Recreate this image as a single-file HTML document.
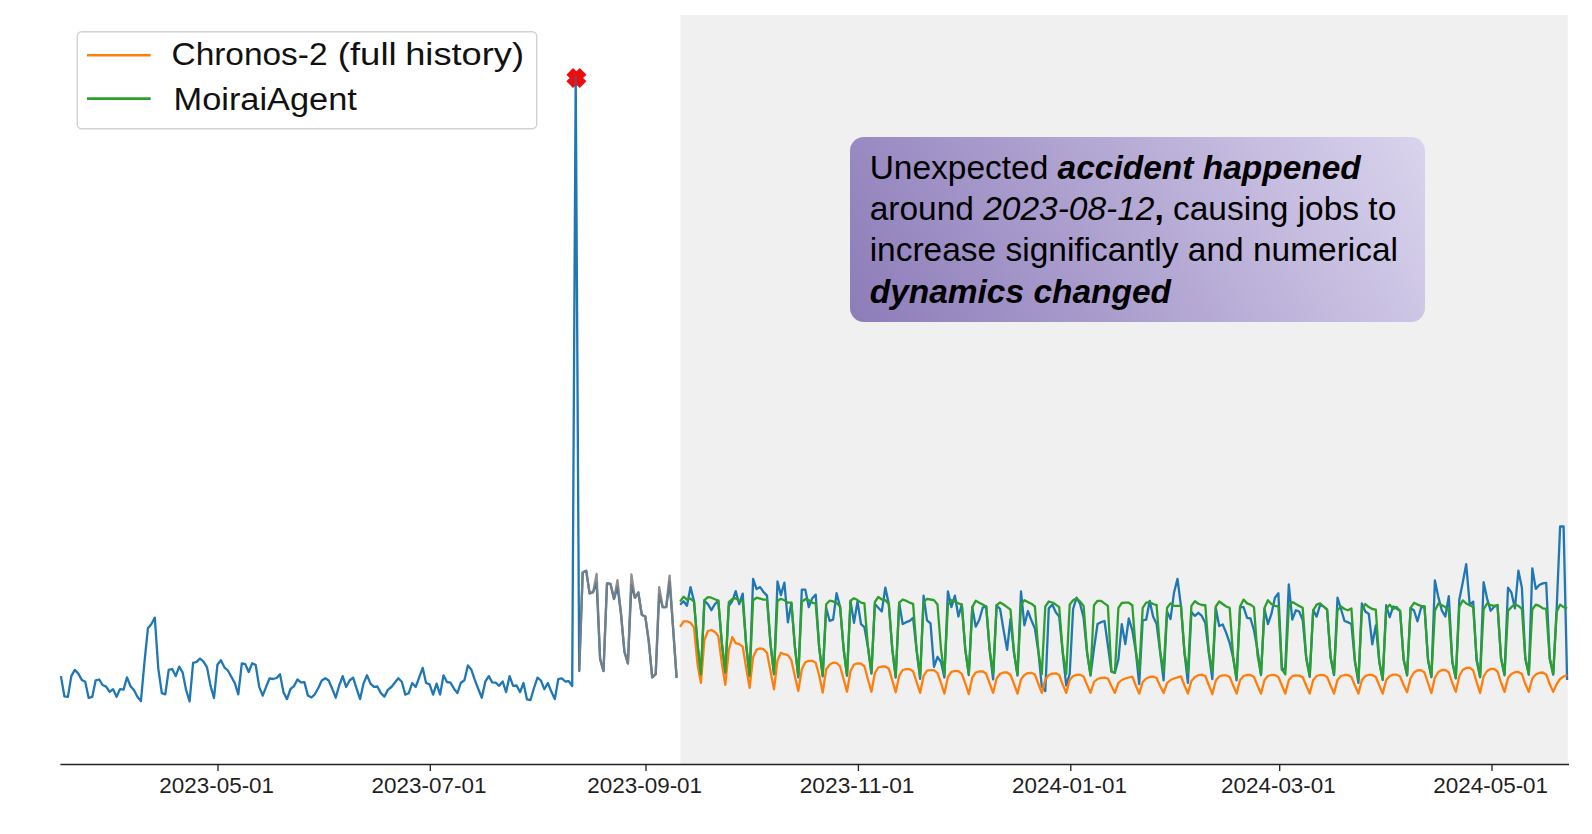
<!DOCTYPE html>
<html>
<head>
<meta charset="utf-8">
<title>Forecast comparison</title>
<style>
html,body{margin:0;padding:0;background:#fff;}
body{width:1592px;height:834px;position:relative;overflow:hidden;font-family:"Liberation Sans",sans-serif;}
svg{position:absolute;left:0;top:0;}
svg text{font-family:"Liberation Sans",sans-serif;}
.note{position:absolute;left:849.7px;top:136.9px;width:575.2px;height:184.7px;border-radius:14px;
background:linear-gradient(60deg,#8c7cb9 0%,#b3a7d3 50%,#dad4ed 100%);}
.note div{position:absolute;left:20.0px;margin:0;font-size:33.47px;line-height:33.5px;height:33.5px;color:#000;white-space:nowrap;}
.note b{font-weight:bold;font-style:italic;}
.note i{font-style:italic;}
</style>
</head>
<body>
<svg width="1592" height="834" viewBox="0 0 1592 834">
<rect x="680.4" y="15.1" width="887.4" height="749.4" fill="#f0f0f0"/>
<g fill="none" stroke-linejoin="round" stroke-linecap="butt">
<path d="M60.9,676.1 L64.4,696.3 L67.9,696.9 L71.3,676.1 L74.8,669.9 L78.3,673.6 L81.8,679.9 L85.2,681.8 L88.7,697.9 L92.2,696.9 L95.7,680.3 L99.2,679.5 L102.6,685.0 L106.1,686.6 L109.6,691.9 L113.1,689.1 L116.6,696.9 L120.0,689.1 L123.5,689.7 L127.0,677.4 L130.5,686.2 L133.9,690.0 L137.4,696.7 L140.9,701.1 L144.4,662.9 L147.9,628.3 L151.3,624.2 L154.8,617.6 L158.3,668.6 L161.8,693.1 L165.3,694.4 L168.7,669.9 L172.2,669.0 L175.7,676.1 L179.2,666.7 L182.6,672.4 L186.1,690.0 L189.6,701.3 L193.1,662.9 L196.6,661.9 L200.0,658.5 L203.5,661.7 L207.0,667.3 L210.5,685.6 L214.0,697.9 L217.4,664.8 L220.9,660.2 L224.4,667.3 L227.9,670.5 L231.3,676.8 L234.8,683.1 L238.3,694.4 L241.8,663.3 L245.3,664.2 L248.7,672.0 L252.2,663.2 L255.7,665.0 L259.2,686.8 L262.7,695.6 L266.1,686.8 L269.6,678.3 L273.1,679.0 L276.6,678.0 L280.0,674.2 L283.5,692.4 L287.0,699.1 L290.5,689.0 L294.0,686.1 L297.4,679.5 L300.9,682.4 L304.4,682.1 L307.9,695.6 L311.4,697.5 L314.8,694.3 L318.3,688.0 L321.8,680.5 L325.3,678.3 L328.7,680.5 L332.2,688.7 L335.7,697.7 L339.2,685.5 L342.7,676.1 L346.1,687.0 L349.6,680.5 L353.1,677.6 L356.6,688.7 L360.1,699.1 L363.5,683.6 L367.0,675.2 L370.5,683.6 L374.0,686.8 L377.4,686.5 L380.9,693.1 L384.4,696.6 L387.9,689.9 L391.4,687.0 L394.8,682.7 L398.3,678.3 L401.8,681.7 L405.3,694.6 L408.7,693.3 L412.2,683.0 L415.7,687.0 L419.2,677.3 L422.7,667.9 L426.1,683.0 L429.6,684.3 L433.1,694.6 L436.6,683.6 L440.1,694.6 L443.5,675.3 L447.0,682.0 L450.5,682.7 L454.0,688.7 L457.4,693.1 L460.9,682.7 L464.4,680.2 L467.9,665.4 L471.4,669.8 L474.8,679.9 L478.3,689.0 L481.8,697.7 L485.3,681.7 L488.8,676.1 L492.2,682.4 L495.7,682.7 L499.2,685.8 L502.7,681.5 L506.1,692.1 L509.6,676.1 L513.1,685.8 L516.6,685.5 L520.1,692.1 L523.5,683.0 L527.0,699.4 L530.5,700.0 L534.0,688.0 L537.5,677.6 L540.9,680.5 L544.4,689.3 L547.9,683.0 L551.4,691.8 L554.8,699.1 L558.3,679.2 L561.8,678.3 L565.3,681.5 L568.8,681.1 L572.2,686.1 L575.7,76.5 L579.2,671.0 L582.7,572.6 L586.2,570.7 L589.6,593.4 L593.1,592.1 L596.6,582.6 L600.1,659.0 L603.5,671.0 L607.0,583.3 L610.5,583.9 L614.0,599.0 L617.5,587.0 L620.9,612.9 L624.4,651.5 L627.9,663.4 L631.4,585.0 L634.9,597.8 L638.3,592.5 L641.8,614.8 L645.3,616.6 L648.8,641.6 L652.2,677.3 L655.7,674.1 L659.2,594.0 L662.7,607.2 L666.2,607.2 L669.6,582.0 L673.1,628.0 L676.6,677.9" stroke="#1f77b4" stroke-width="2.3"/>
<path d="M680.1,604.7 L683.6,601.2 L687.0,605.7 L690.5,587.1 L694.0,601.0 L697.5,644.3 L700.9,675.3 L704.4,600.5 L707.9,604.2 L711.4,610.2 L714.9,604.2 L718.3,600.5 L721.8,643.2 L725.3,673.3 L728.8,606.0 L732.3,601.0 L735.7,591.1 L739.2,604.2 L742.7,593.6 L746.2,645.6 L749.6,676.4 L753.1,579.0 L756.6,589.1 L760.1,587.1 L763.6,592.1 L767.0,595.6 L770.5,644.2 L774.0,674.3 L777.5,581.5 L780.9,595.1 L784.4,582.6 L787.9,622.3 L791.4,603.0 L794.9,647.1 L798.3,677.4 L801.8,589.6 L805.3,589.6 L808.8,607.2 L812.3,598.2 L815.7,594.6 L819.2,647.9 L822.7,676.4 L826.2,608.0 L829.6,620.8 L833.1,619.6 L836.6,593.2 L840.1,607.0 L843.6,649.0 L847.0,675.8 L850.5,601.0 L854.0,622.8 L857.5,601.4 L861.0,624.1 L864.4,627.2 L867.9,646.9 L871.4,673.6 L874.9,604.0 L878.3,607.7 L881.8,611.5 L885.3,587.6 L888.8,604.0 L892.3,649.7 L895.7,677.5 L899.2,603.0 L902.7,624.1 L906.2,622.2 L909.7,620.9 L913.1,617.8 L916.6,650.3 L920.1,678.8 L923.6,595.7 L927.0,620.3 L930.5,623.4 L934.0,666.8 L937.5,656.8 L941.0,662.0 L944.4,677.5 L947.9,591.3 L951.4,607.1 L954.9,595.7 L958.4,616.5 L961.8,604.5 L965.3,649.9 L968.8,675.0 L972.3,607.1 L975.7,626.6 L979.2,620.0 L982.7,607.7 L986.2,606.4 L989.7,650.6 L993.1,679.4 L996.6,605.2 L1000.1,609.0 L1003.6,630.3 L1007.1,649.9 L1010.5,619.0 L1014.0,652.8 L1017.5,675.5 L1021.0,591.3 L1024.4,625.3 L1027.9,611.0 L1031.4,620.3 L1034.9,628.5 L1038.4,652.0 L1041.8,686.6 L1045.3,691.0 L1048.8,608.4 L1052.3,604.6 L1055.8,612.2 L1059.2,616.6 L1062.7,652.5 L1066.2,685.4 L1069.7,674.0 L1073.1,609.0 L1076.6,597.7 L1080.1,604.0 L1083.6,617.8 L1087.1,652.9 L1090.5,675.7 L1094.0,648.5 L1097.5,624.1 L1101.0,622.2 L1104.5,621.0 L1107.9,645.5 L1111.4,671.5 L1114.9,672.8 L1118.4,659.5 L1121.8,624.1 L1125.3,644.0 L1128.8,618.5 L1132.3,630.4 L1135.8,651.3 L1139.2,684.1 L1142.7,620.3 L1146.2,619.7 L1149.7,600.8 L1153.1,616.6 L1156.6,624.1 L1160.1,651.7 L1163.6,680.3 L1167.1,611.5 L1170.5,619.1 L1174.0,592.7 L1177.5,578.8 L1181.0,606.5 L1184.5,653.2 L1187.9,682.9 L1191.4,612.0 L1194.9,615.9 L1198.4,612.8 L1201.8,615.9 L1205.3,622.9 L1208.8,652.5 L1212.3,679.1 L1215.8,608.0 L1219.2,626.0 L1222.7,624.5 L1226.2,632.9 L1229.7,643.0 L1233.2,658.0 L1236.6,680.3 L1240.1,607.0 L1243.6,607.1 L1247.1,617.8 L1250.5,618.5 L1254.0,630.4 L1257.5,650.0 L1261.0,675.0 L1264.5,609.0 L1267.9,624.1 L1271.4,614.0 L1274.9,597.7 L1278.4,593.3 L1281.9,670.0 L1285.3,668.0 L1288.8,584.5 L1292.3,619.7 L1295.8,610.3 L1299.2,611.5 L1302.7,620.0 L1306.2,658.0 L1309.7,676.9 L1313.2,610.0 L1316.6,616.6 L1320.1,605.0 L1323.6,606.5 L1327.1,609.6 L1330.6,657.6 L1334.0,675.1 L1337.5,597.7 L1341.0,609.0 L1344.5,621.0 L1347.9,622.2 L1351.4,624.1 L1354.9,661.4 L1358.4,682.9 L1361.9,603.4 L1365.3,611.5 L1368.8,614.0 L1372.3,644.3 L1375.8,625.4 L1379.3,662.1 L1382.7,680.0 L1386.2,605.2 L1389.7,617.2 L1393.2,606.5 L1396.6,608.5 L1400.1,611.0 L1403.6,659.4 L1407.1,675.5 L1410.6,608.0 L1414.0,610.5 L1417.5,621.3 L1421.0,608.0 L1424.5,606.5 L1428.0,660.0 L1431.4,677.2 L1434.9,580.4 L1438.4,597.4 L1441.9,610.7 L1445.3,616.5 L1448.8,596.2 L1452.3,661.9 L1455.8,678.4 L1459.3,599.8 L1462.7,582.8 L1466.2,564.1 L1469.7,604.6 L1473.2,601.6 L1476.6,660.1 L1480.1,677.2 L1483.6,582.2 L1487.1,598.6 L1490.6,610.7 L1494.0,607.0 L1497.5,605.0 L1501.0,658.2 L1504.5,675.3 L1508.0,587.7 L1511.4,592.5 L1514.9,608.3 L1518.4,570.7 L1521.9,587.7 L1525.3,658.6 L1528.8,674.7 L1532.3,568.3 L1535.8,588.9 L1539.3,585.0 L1542.7,583.4 L1546.2,582.8 L1549.7,658.6 L1553.2,674.7 L1556.7,608.0 L1560.1,526.5 L1563.6,526.5 L1567.1,680.0" stroke="#1f77b4" stroke-width="2.3"/>
<path d="M579.2,671.0 L582.7,572.6 L586.2,570.7 L589.6,593.4 L593.1,592.1 L596.6,574.0 L600.1,659.0 L603.5,671.0 L607.0,583.3 L610.5,583.9 L614.0,599.0 L617.5,580.1 L620.9,612.9 L624.4,651.5 L627.9,663.4 L631.4,574.5 L634.9,597.8 L638.3,592.5 L641.8,614.8 L645.3,616.6 L648.8,641.6 L652.2,677.3 L655.7,674.1 L659.2,587.1 L662.7,607.2 L666.2,607.2 L669.6,575.7 L673.1,628.0 L676.6,677.9" stroke="#808080" stroke-width="2.3" opacity="0.88"/>
<path d="M680.1,626.9 L683.6,621.3 L687.0,621.3 L690.5,622.8 L694.0,627.4 L697.5,664.0 L700.9,682.9 L704.4,640.0 L707.9,631.0 L711.4,630.0 L714.9,632.0 L718.3,636.1 L721.8,663.0 L725.3,684.9 L728.8,650.0 L732.3,637.1 L735.7,643.1 L739.2,644.1 L742.7,646.7 L746.2,668.0 L749.6,687.9 L753.1,657.2 L756.6,649.7 L760.1,648.4 L763.6,649.2 L767.0,652.7 L770.5,671.3 L774.0,689.4 L777.5,660.2 L780.9,652.7 L784.4,654.2 L787.9,655.2 L791.4,660.2 L794.9,676.4 L798.3,691.0 L801.8,669.3 L805.3,662.3 L808.8,660.8 L812.3,660.8 L815.7,662.8 L819.2,675.4 L822.7,692.5 L826.2,669.3 L829.6,664.8 L833.1,662.6 L836.6,663.0 L840.1,666.5 L843.6,679.0 L847.0,691.7 L850.5,671.0 L854.0,664.5 L857.5,663.3 L861.0,663.7 L864.4,666.2 L867.9,679.2 L871.4,691.7 L874.9,673.0 L878.3,667.5 L881.8,666.5 L885.3,666.5 L888.8,668.7 L892.3,680.5 L895.7,692.3 L899.2,675.7 L902.7,670.0 L906.2,669.2 L909.7,669.2 L913.1,671.3 L916.6,682.0 L920.1,692.9 L923.6,676.0 L927.0,670.6 L930.5,670.2 L934.0,670.2 L937.5,673.1 L941.0,683.0 L944.4,693.6 L947.9,677.0 L951.4,671.9 L954.9,671.0 L958.4,671.1 L961.8,673.8 L965.3,683.5 L968.8,694.2 L972.3,677.5 L975.7,672.5 L979.2,671.5 L982.7,671.3 L986.2,673.8 L989.7,683.5 L993.1,692.9 L996.6,678.5 L1000.1,673.8 L1003.6,672.5 L1007.1,672.5 L1010.5,675.0 L1014.0,684.0 L1017.5,693.6 L1021.0,679.4 L1024.4,675.0 L1027.9,673.1 L1031.4,672.8 L1034.9,674.5 L1038.4,684.0 L1041.8,692.9 L1045.3,679.5 L1048.8,675.0 L1052.3,673.6 L1055.8,673.4 L1059.2,675.0 L1062.7,684.5 L1066.2,692.9 L1069.7,680.0 L1073.1,676.0 L1076.6,674.8 L1080.1,674.7 L1083.6,676.5 L1087.1,685.0 L1090.5,692.9 L1094.0,682.0 L1097.5,679.0 L1101.0,677.8 L1104.5,677.6 L1107.9,678.5 L1111.4,686.0 L1114.9,692.9 L1118.4,683.0 L1121.8,680.0 L1125.3,678.5 L1128.8,677.5 L1132.3,676.6 L1135.8,685.5 L1139.2,693.6 L1142.7,682.0 L1146.2,678.5 L1149.7,677.0 L1153.1,676.6 L1156.6,678.0 L1160.1,686.0 L1163.6,692.9 L1167.1,683.0 L1170.5,680.0 L1174.0,678.5 L1177.5,677.3 L1181.0,676.3 L1184.5,685.5 L1187.9,693.6 L1191.4,681.0 L1194.9,677.0 L1198.4,675.2 L1201.8,674.7 L1205.3,676.0 L1208.8,685.0 L1212.3,694.2 L1215.8,680.5 L1219.2,676.5 L1222.7,675.3 L1226.2,675.3 L1229.7,677.0 L1233.2,685.5 L1236.6,693.6 L1240.1,680.0 L1243.6,676.0 L1247.1,674.9 L1250.5,675.0 L1254.0,677.0 L1257.5,685.5 L1261.0,693.6 L1264.5,680.0 L1267.9,676.0 L1271.4,675.0 L1274.9,675.1 L1278.4,677.0 L1281.9,685.5 L1285.3,693.6 L1288.8,680.0 L1292.3,676.2 L1295.8,675.3 L1299.2,675.6 L1302.7,677.2 L1306.2,685.5 L1309.7,693.6 L1313.2,680.0 L1316.6,676.0 L1320.1,675.0 L1323.6,675.1 L1327.1,677.0 L1330.6,685.5 L1334.0,693.6 L1337.5,680.0 L1341.0,676.0 L1344.5,675.0 L1347.9,675.0 L1351.4,677.0 L1354.9,685.5 L1358.4,693.6 L1361.9,680.0 L1365.3,676.0 L1368.8,674.8 L1372.3,674.9 L1375.8,677.0 L1379.3,685.5 L1382.7,693.6 L1386.2,680.0 L1389.7,676.0 L1393.2,674.7 L1396.6,674.7 L1400.1,676.5 L1403.6,685.0 L1407.1,692.2 L1410.6,678.0 L1414.0,672.5 L1417.5,670.3 L1421.0,670.1 L1424.5,672.5 L1428.0,683.0 L1431.4,693.1 L1434.9,677.5 L1438.4,672.0 L1441.9,670.0 L1445.3,669.9 L1448.8,672.5 L1452.3,683.0 L1455.8,691.9 L1459.3,676.0 L1462.7,670.0 L1466.2,667.9 L1469.7,667.7 L1473.2,670.5 L1476.6,682.0 L1480.1,693.1 L1483.6,676.5 L1487.1,671.0 L1490.6,669.0 L1494.0,668.9 L1497.5,671.5 L1501.0,682.5 L1504.5,691.9 L1508.0,678.0 L1511.4,674.0 L1514.9,672.2 L1518.4,671.9 L1521.9,674.0 L1525.3,684.0 L1528.8,691.9 L1532.3,678.5 L1535.8,674.5 L1539.3,672.8 L1542.7,672.5 L1546.2,674.5 L1549.7,684.0 L1553.2,691.9 L1556.7,684.0 L1560.1,679.0 L1563.6,676.5 L1567.1,675.0" stroke="#ff7f0e" stroke-width="2.3"/>
<path d="M680.1,601.7 L683.6,596.7 L687.0,599.7 L690.5,598.7 L694.0,601.7 L697.5,643.8 L700.9,674.3 L704.4,600.2 L707.9,597.2 L711.4,597.7 L714.9,599.2 L718.3,600.7 L721.8,642.7 L725.3,672.3 L728.8,602.2 L732.3,599.2 L735.7,598.2 L739.2,600.7 L742.7,601.2 L746.2,645.1 L749.6,675.4 L753.1,600.2 L756.6,597.7 L760.1,598.7 L763.6,599.7 L767.0,599.7 L770.5,643.7 L774.0,673.3 L777.5,600.7 L780.9,598.7 L784.4,600.2 L787.9,602.7 L791.4,602.7 L794.9,646.6 L798.3,675.4 L801.8,601.7 L805.3,599.2 L808.8,600.2 L812.3,602.7 L815.7,603.7 L819.2,647.4 L822.7,675.4 L826.2,604.2 L829.6,600.7 L833.1,601.4 L836.6,603.0 L840.1,606.4 L843.6,648.5 L847.0,674.8 L850.5,600.8 L854.0,598.3 L857.5,600.1 L861.0,602.7 L864.4,603.3 L867.9,646.4 L871.4,672.6 L874.9,602.0 L878.3,597.0 L881.8,599.5 L885.3,600.1 L888.8,603.9 L892.3,649.2 L895.7,676.0 L899.2,602.7 L902.7,599.5 L906.2,600.8 L909.7,602.7 L913.1,603.9 L916.6,649.8 L920.1,676.3 L923.6,602.0 L927.0,598.9 L930.5,599.5 L934.0,600.1 L937.5,604.5 L941.0,649.3 L944.4,674.5 L947.9,605.2 L951.4,600.1 L954.9,601.4 L958.4,603.3 L961.8,604.5 L965.3,649.4 L968.8,674.0 L972.3,607.1 L975.7,600.8 L979.2,602.7 L982.7,604.5 L986.2,606.4 L989.7,650.1 L993.1,673.5 L996.6,605.2 L1000.1,602.4 L1003.6,604.5 L1007.1,607.1 L1010.5,609.6 L1014.0,652.3 L1017.5,674.5 L1021.0,604.5 L1024.4,600.2 L1027.9,602.1 L1031.4,603.7 L1034.9,606.5 L1038.4,651.4 L1041.8,674.1 L1045.3,606.5 L1048.8,601.5 L1052.3,602.5 L1055.8,604.6 L1059.2,607.1 L1062.7,652.0 L1066.2,674.1 L1069.7,604.6 L1073.1,600.2 L1076.6,598.3 L1080.1,601.5 L1083.6,605.9 L1087.1,652.4 L1090.5,674.7 L1094.0,605.2 L1097.5,600.8 L1101.0,600.8 L1104.5,603.4 L1107.9,605.9 L1111.4,671.5 L1114.9,672.8 L1118.4,607.8 L1121.8,603.0 L1125.3,602.7 L1128.8,602.7 L1132.3,605.2 L1135.8,650.8 L1139.2,671.5 L1142.7,607.8 L1146.2,602.7 L1149.7,602.1 L1153.1,604.0 L1156.6,605.2 L1160.1,651.2 L1163.6,671.5 L1167.1,607.8 L1170.5,603.4 L1174.0,605.9 L1177.5,605.9 L1181.0,605.9 L1184.5,652.7 L1187.9,672.8 L1191.4,605.9 L1194.9,601.2 L1198.4,603.7 L1201.8,605.0 L1205.3,605.2 L1208.8,652.0 L1212.3,671.5 L1215.8,606.5 L1219.2,601.5 L1222.7,604.0 L1226.2,606.5 L1229.7,607.8 L1233.2,657.6 L1236.6,677.8 L1240.1,606.5 L1243.6,599.6 L1247.1,603.4 L1250.5,604.6 L1254.0,607.1 L1257.5,655.2 L1261.0,674.1 L1264.5,608.0 L1267.9,600.2 L1271.4,604.0 L1274.9,605.9 L1278.4,606.5 L1281.9,669.0 L1285.3,674.4 L1288.8,606.5 L1292.3,602.1 L1295.8,604.0 L1299.2,605.9 L1302.7,607.8 L1306.2,657.5 L1309.7,675.9 L1313.2,610.3 L1316.6,604.6 L1320.1,603.4 L1323.6,606.5 L1327.1,609.6 L1330.6,657.1 L1334.0,674.1 L1337.5,610.3 L1341.0,606.5 L1344.5,609.0 L1347.9,610.3 L1351.4,608.4 L1354.9,660.9 L1358.4,679.1 L1361.9,610.3 L1365.3,604.0 L1368.8,607.1 L1372.3,609.0 L1375.8,609.6 L1379.3,661.6 L1382.7,679.1 L1386.2,609.0 L1389.7,604.6 L1393.2,609.0 L1396.6,607.0 L1400.1,610.9 L1403.6,658.9 L1407.1,674.5 L1410.6,607.8 L1414.0,602.8 L1417.5,604.6 L1421.0,605.9 L1424.5,606.5 L1428.0,659.5 L1431.4,676.2 L1434.9,610.7 L1438.4,603.4 L1441.9,605.2 L1445.3,607.1 L1448.8,610.7 L1452.3,661.4 L1455.8,677.4 L1459.3,607.1 L1462.7,600.4 L1466.2,603.4 L1469.7,605.2 L1473.2,607.1 L1476.6,659.6 L1480.1,676.2 L1483.6,609.5 L1487.1,603.4 L1490.6,605.2 L1494.0,605.9 L1497.5,605.2 L1501.0,657.7 L1504.5,674.3 L1508.0,610.7 L1511.4,607.1 L1514.9,604.0 L1518.4,605.9 L1521.9,608.9 L1525.3,658.1 L1528.8,673.7 L1532.3,609.5 L1535.8,604.6 L1539.3,605.9 L1542.7,608.3 L1546.2,608.9 L1549.7,658.1 L1553.2,673.7 L1556.7,611.9 L1560.1,604.6 L1563.6,607.1 L1567.1,608.3" stroke="#2ca02c" stroke-width="2.3"/>
</g>
<path d="M573.0,68.0 L576.4,71.3 L579.8,68.0 L586.4,74.7 L583.1,78.0 L586.4,81.3 L579.8,88.0 L576.4,84.7 L573.0,88.0 L566.4,81.3 L569.7,78.0 L566.4,74.7Z" fill="#ef0c0c"/>
<clipPath id="mkc"><path d="M573.0,68.0 L576.4,71.3 L579.8,68.0 L586.4,74.7 L583.1,78.0 L586.4,81.3 L579.8,88.0 L576.4,84.7 L573.0,88.0 L566.4,81.3 L569.7,78.0 L566.4,74.7Z"/></clipPath>
<path d="M572.2,686.1 L575.7,76.5 L579.2,671.0" fill="none" stroke="#1f77b4" stroke-width="2.3" stroke-linejoin="round" opacity="0.5" clip-path="url(#mkc)"/>
<line x1="60.4" y1="764.5" x2="1569.0" y2="764.5" stroke="#222" stroke-width="1.3"/>
<line x1="218.0" y1="764.5" x2="218.0" y2="771.0" stroke="#222" stroke-width="1.3"/>
<text x="159.3" y="793.0" font-size="21.3" textLength="114.8" lengthAdjust="spacingAndGlyphs" fill="#1f1f1f">2023-05-01</text>
<line x1="430.3" y1="764.5" x2="430.3" y2="771.0" stroke="#222" stroke-width="1.3"/>
<text x="371.6" y="793.0" font-size="21.3" textLength="114.8" lengthAdjust="spacingAndGlyphs" fill="#1f1f1f">2023-07-01</text>
<line x1="646.0" y1="764.5" x2="646.0" y2="771.0" stroke="#222" stroke-width="1.3"/>
<text x="587.3" y="793.0" font-size="21.3" textLength="114.8" lengthAdjust="spacingAndGlyphs" fill="#1f1f1f">2023-09-01</text>
<line x1="858.4" y1="764.5" x2="858.4" y2="771.0" stroke="#222" stroke-width="1.3"/>
<text x="799.7" y="793.0" font-size="21.3" textLength="114.8" lengthAdjust="spacingAndGlyphs" fill="#1f1f1f">2023-11-01</text>
<line x1="1070.8" y1="764.5" x2="1070.8" y2="771.0" stroke="#222" stroke-width="1.3"/>
<text x="1012.1" y="793.0" font-size="21.3" textLength="114.8" lengthAdjust="spacingAndGlyphs" fill="#1f1f1f">2024-01-01</text>
<line x1="1279.7" y1="764.5" x2="1279.7" y2="771.0" stroke="#222" stroke-width="1.3"/>
<text x="1221.0" y="793.0" font-size="21.3" textLength="114.8" lengthAdjust="spacingAndGlyphs" fill="#1f1f1f">2024-03-01</text>
<line x1="1492.0" y1="764.5" x2="1492.0" y2="771.0" stroke="#222" stroke-width="1.3"/>
<text x="1433.3" y="793.0" font-size="21.3" textLength="114.8" lengthAdjust="spacingAndGlyphs" fill="#1f1f1f">2024-05-01</text>

<rect x="77.3" y="31.7" width="459.4" height="97.0" rx="4.5" ry="4.5" fill="#ffffff" fill-opacity="0.8" stroke="#d2d2d2" stroke-width="1.4"/>
<line x1="87.0" y1="55.3" x2="150.7" y2="55.3" stroke="#ff7f0e" stroke-width="2.6"/>
<line x1="87.0" y1="98.6" x2="150.7" y2="98.6" stroke="#2ca02c" stroke-width="2.6"/>
<text x="171.5" y="64.6" font-size="30.8" textLength="156" lengthAdjust="spacingAndGlyphs" fill="#111">Chronos-2</text>
<text x="337.8" y="64.6" font-size="30.8" textLength="58.8" lengthAdjust="spacingAndGlyphs" fill="#111">(full</text>
<text x="405.2" y="64.6" font-size="30.8" textLength="118.8" lengthAdjust="spacingAndGlyphs" fill="#111">history)</text>
<text x="173.5" y="109.8" font-size="30.8" textLength="183.4" lengthAdjust="spacingAndGlyphs" fill="#111">MoiraiAgent</text>
</svg>
<div class="note">
<div style="top:14.25px">Unexpected <b>accident happened</b></div>
<div style="top:55.25px">around <i>2023-08-12</i><b style="font-style:normal">,</b> causing jobs to</div>
<div style="top:96.25px">increase significantly and numerical</div>
<div style="top:138.25px"><b>dynamics changed</b></div>
</div>
</body>
</html>
